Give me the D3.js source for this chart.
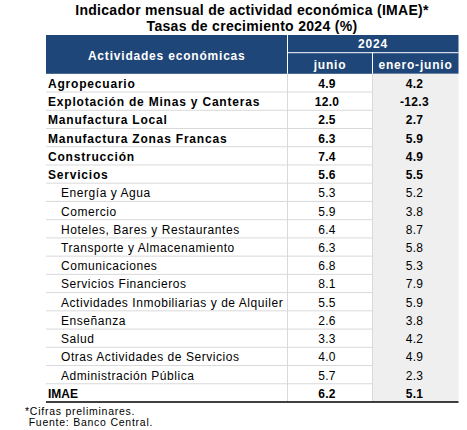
<!DOCTYPE html>
<html><head><meta charset="utf-8">
<script src="https://cdn.jsdelivr.net/npm/d3@7"></script>
<style>
html,body{margin:0;padding:0;background:#fff;}
text{font-family:"Liberation Sans",Arial,sans-serif;}
</style></head>
<body>
<svg id="chart" width="467" height="430"></svg>
<script>
const titleLines = ["Indicador mensual de actividad económica (IMAE)*", "Tasas de crecimiento 2024 (%)"];
const headerLabels = ["Actividades económicas", "2024", "junio", "enero-junio"];
const categories = [
  "Agropecuario",
  "Explotación de Minas y Canteras",
  "Manufactura Local",
  "Manufactura Zonas Francas",
  "Construcción",
  "Servicios",
  "Energía y Agua",
  "Comercio",
  "Hoteles, Bares y Restaurantes",
  "Transporte y Almacenamiento",
  "Comunicaciones",
  "Servicios Financieros",
  "Actividades Inmobiliarias y de Alquiler",
  "Enseñanza",
  "Salud",
  "Otras Actividades de Servicios",
  "Administración Pública",
  "IMAE"
];
const junio =      [4.9, 12.0, 2.5, 6.3, 7.4, 5.6, 5.3, 5.9, 6.4, 6.3, 6.8, 8.1, 5.5, 2.6, 3.3, 4.0, 5.7, 6.2];
const eneroJunio = [4.2, -12.3, 2.7, 5.9, 4.9, 5.5, 5.2, 3.8, 8.7, 5.8, 5.3, 7.9, 5.9, 3.8, 4.2, 4.9, 2.3, 5.1];
const isSub =      [0,0,0,0,0,0,1,1,1,1,1,1,1,1,1,1,1,0];
const footnotes = ["*Cifras preliminares.", " Fuente: Banco Central."];

const svg = d3.select("#chart");
const blue = "#1f4678", grid = "#d9d9d9", shade = "#efefef";

const colEdges = [46, 287.5, 372.5, 458.5];
const x = d3.scaleOrdinal().domain(["label","junio","enero"]).range([0,1,2]);
const colL = k => colEdges[x(k)], colR = k => colEdges[x(k)+1], colC = k => (colL(k)+colR(k))/2;
const headTop = 35, headMid = 52.7, headBot = 73.8, tableBot = 402;
const y = d3.scaleBand().domain(d3.range(categories.length)).range([headBot, tableBot]).padding(0);

// title
svg.selectAll("text.title").data(titleLines).join("text")
  .attr("class","title").attr("x",252).attr("y",(d,i)=>14.7+i*16)
  .attr("text-anchor","middle").attr("font-size",14).attr("font-weight","bold")
  .attr("letter-spacing",0.3).attr("fill","#000").text(d=>d);

// header
svg.append("rect").attr("x",colEdges[0]).attr("y",headTop).attr("width",colEdges[3]-colEdges[0]).attr("height",headBot-headTop).attr("fill",blue);
svg.append("line").attr("x1",colEdges[1]).attr("x2",colEdges[1]).attr("y1",headTop).attr("y2",headBot).attr("stroke","#fff").attr("stroke-width",1);
svg.append("line").attr("x1",colEdges[2]).attr("x2",colEdges[2]).attr("y1",headMid).attr("y2",headBot).attr("stroke","#fff").attr("stroke-width",1);
svg.append("line").attr("x1",colEdges[1]).attr("x2",colEdges[3]).attr("y1",headMid).attr("y2",headMid).attr("stroke","#fff").attr("stroke-width",1);
const hdr = [
  {t:headerLabels[0], x:colC("label"), y:60},
  {t:headerLabels[1], x:(colEdges[1]+colEdges[3])/2, y:47.6},
  {t:headerLabels[2], x:colC("junio"), y:68.6},
  {t:headerLabels[3], x:colC("enero"), y:68.6}
];
svg.selectAll("text.hdr").data(hdr).join("text").attr("class","hdr")
  .attr("x",d=>d.x).attr("y",d=>d.y).attr("text-anchor","middle")
  .attr("font-size",12).attr("font-weight","bold").attr("letter-spacing",0.8)
  .attr("fill","#fff").text(d=>d.t);

// body shading
svg.append("rect").attr("x",colEdges[2]).attr("y",headBot).attr("width",colEdges[3]-colEdges[2]).attr("height",tableBot-headBot).attr("fill",shade);

// grid lines
svg.selectAll("line.hg").data(d3.range(1,categories.length)).join("line").attr("class","hg")
  .attr("x1",colEdges[0]).attr("x2",colEdges[2]).attr("y1",i=>y(i)).attr("y2",i=>y(i))
  .attr("stroke",grid).attr("stroke-width",1);
svg.selectAll("line.vg").data([1,2]).join("line").attr("class","vg")
  .attr("x1",i=>colEdges[i]).attr("x2",i=>colEdges[i]).attr("y1",headBot).attr("y2",tableBot)
  .attr("stroke",grid).attr("stroke-width",1);
svg.append("line").attr("x1",colEdges[0]).attr("x2",colEdges[3]).attr("y1",tableBot).attr("y2",tableBot)
  .attr("stroke","#000").attr("stroke-width",1.5);

const fmt0 = d3.format(".1f");
const fmt = v => fmt0(v).replace("\u2212","-");
const rows = svg.selectAll("g.row").data(categories).join("g").attr("class","row")
  .attr("transform",(d,i)=>`translate(0,${y(i)+14.1})`);
rows.append("text").attr("x",(d,i)=>isSub[i]?61:48)
  .attr("font-size",12).attr("font-weight",(d,i)=>isSub[i]?"normal":"bold")
  .attr("letter-spacing",(d,i)=>isSub[i]?0.55:(d==="IMAE"?0:0.8)).attr("fill","#000").text(d=>d);
rows.append("text").attr("x",colC("junio")-3).attr("text-anchor","middle")
  .attr("font-size",12).attr("font-weight",(d,i)=>isSub[i]?"normal":"bold")
  .attr("letter-spacing",0.3).attr("fill","#000").text((d,i)=>fmt(junio[i]));
rows.append("text").attr("x",colC("enero")-1).attr("text-anchor","middle")
  .attr("font-size",12).attr("font-weight",(d,i)=>isSub[i]?"normal":"bold")
  .attr("letter-spacing",0.3).attr("fill","#000").text((d,i)=>fmt(eneroJunio[i]));

// footnotes
svg.selectAll("text.fn").data(footnotes).join("text").attr("class","fn")
  .attr("x",25).attr("y",(d,i)=>415+i*11).attr("font-size",10.5).attr("letter-spacing",0.75)
  .attr("xml:space","preserve").style("white-space","pre").attr("fill","#000").text(d=>d);
</script>
</body></html>
